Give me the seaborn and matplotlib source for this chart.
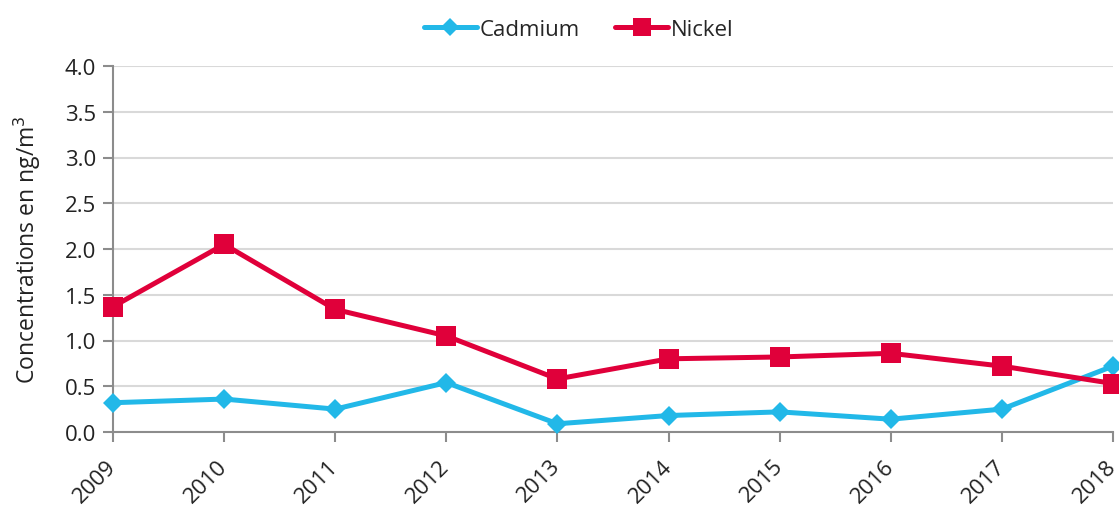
import pandas as pd
import matplotlib.pyplot as plt
from matplotlib.lines import Line2D
import seaborn as sns

sns.set_theme(style="white")
plt.rcParams['font.family'] = ['Open Sans', 'DejaVu Sans']

# Data
years = [2009, 2010, 2011, 2012, 2013, 2014, 2015, 2016, 2017, 2018]
cadmium = [0.32, 0.36, 0.25, 0.54, 0.09, 0.18, 0.22, 0.14, 0.25, 0.72]
nickel = [1.37, 2.05, 1.34, 1.05, 0.58, 0.80, 0.82, 0.86, 0.72, 0.53]
series_names = ['Cadmium', 'Nickel']
y_ticks = [0.0, 0.5, 1.0, 1.5, 2.0, 2.5, 3.0, 3.5, 4.0]

df = pd.DataFrame({
    'year': years * 2,
    'value': cadmium + nickel,
    'metal': [series_names[0]] * len(years) + [series_names[1]] * len(years),
})

palette = {'Cadmium': '#22B8E8', 'Nickel': '#E0003A'}
markers = {'Cadmium': 'D', 'Nickel': 's'}
msize = {'Cadmium': 10, 'Nickel': 14}

fig = plt.figure(figsize=(11.19, 5.06), dpi=100)
ax = fig.add_axes([113 / 1119, 1 - 433 / 506, 1000 / 1119, 366 / 506])

sns.lineplot(data=df, x='year', y='value', hue='metal', style='metal',
             palette=palette, markers=markers, dashes=False, linewidth=3.6,
             markeredgewidth=0, ax=ax, legend=False)
for line, name in zip(ax.lines, series_names):
    line.set_markersize(msize[name])
    line.set_clip_on(False)

ax.set_xlim(years[0], years[-1])
ax.set_ylim(0, 4.0)
ax.set_yticks(y_ticks)
ax.set_yticklabels([f'{t:.1f}' for t in y_ticks], fontsize=16, color='#222222')
ax.set_xticks(years)
ax.set_xticklabels([str(y) for y in years], rotation=45, ha='right', va='center',
                   rotation_mode='anchor', fontsize=16, color='#222222')
ax.set_xlabel('')
ax.set_ylabel('Concentrations en ng/m$^3$', fontsize=16.5, color='#222222', labelpad=16)

ax.grid(axis='y', color='#d9d9d9', linewidth=1.5)
ax.set_axisbelow(True)
for side in ['top', 'right']:
    ax.spines[side].set_visible(False)
for side in ['left', 'bottom']:
    ax.spines[side].set_color('#8c8c8c')
    ax.spines[side].set_linewidth(1.5)
    ax.spines[side].set_zorder(1.5)
ax.tick_params(axis='y', which='major', length=7, width=1.5, color='#8c8c8c',
               direction='out', left=True, pad=5)
ax.tick_params(axis='x', which='major', length=7, width=1.5, color='#8c8c8c',
               direction='out', bottom=True, pad=15)

# legend at the top
handles = [Line2D([], [], color=palette[n], marker=markers[n], linewidth=3.6,
                  markersize=msize[n] - 1, markeredgewidth=0)
           for n in series_names]
fig.legend(handles, series_names, loc='upper center', bbox_to_anchor=(0.517, 1.0),
           ncol=2, frameon=False, fontsize=16, handlelength=2.4, handletextpad=0.1,
           columnspacing=1.6)

fig.savefig('out.png', dpi=100)
